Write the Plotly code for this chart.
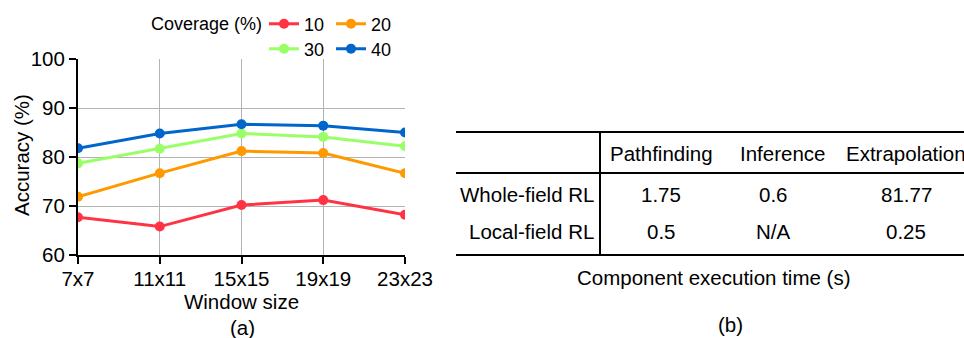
import plotly.graph_objects as go

W, H = 964, 338

window_sizes = ["7x7", "11x11", "15x15", "19x19", "23x23"]
coverage_labels = ["10", "20", "30", "40"]
acc_10 = [67.7, 65.8, 70.2, 71.2, 68.2]
acc_20 = [71.9, 76.7, 81.2, 80.8, 76.7]
acc_30 = [78.7, 81.7, 84.8, 84.1, 82.2]
acc_40 = [81.8, 84.8, 86.7, 86.4, 85.0]
series = [acc_10, acc_20, acc_30, acc_40]
colors = ["#ff3344", "#ff9900", "#99ff66", "#0066cc"]
legend_ids = ["legend", "legend", "legend2", "legend2"]
legend_title = "Coverage (%)"

y_ticks = [60, 70, 80, 90, 100]

table_cols = ["Pathfinding", "Inference", "Extrapolation"]
table_rows = ["Whole-field RL", "Local-field RL"]
table_vals = [["1.75", "0.6", "81.77"], ["0.5", "N/A", "0.25"]]
table_caption = "Component execution time (s)"

FONT = "Arial, 'Liberation Sans', sans-serif"
FS = 20.5


def px_x(x):
    return x / W


def px_y(y):
    return 1 - y / H


fig = go.Figure()
for name, vals, col, lg in zip(coverage_labels, series, colors, legend_ids):
    fig.add_trace(go.Scatter(
        x=window_sizes, y=vals, name=name, mode="lines+markers",
        line=dict(color=col, width=3),
        marker=dict(color=col, size=10),
        legend=lg,
    ))

# Table (b) drawn with shapes and annotations
x_left, x_right, x_div = 456, 970, 600
y_top, y_head, y_bot = 132, 173, 255
shapes = []
for yy in (y_top, y_head, y_bot):
    shapes.append(dict(type="line", xref="paper", yref="paper",
                       x0=px_x(x_left), x1=px_x(x_right), y0=px_y(yy), y1=px_y(yy),
                       line=dict(color="black", width=2)))
shapes.append(dict(type="line", xref="paper", yref="paper",
                   x0=px_x(x_div), x1=px_x(x_div), y0=px_y(y_top), y1=px_y(y_bot),
                   line=dict(color="black", width=2)))

annotations = []
head_x = [661, 782, 906]
val_x = [661, 773, 906]
row_y = [195, 232]


def txt(text, x, y, anchor="center", size=FS, angle=0):
    return dict(text=text, x=px_x(x), y=px_y(y), xref="paper", yref="paper",
                showarrow=False, xanchor=anchor, yanchor="middle", textangle=angle,
                font=dict(size=size, color="black", family=FONT))


for c, hx in zip(table_cols, head_x):
    annotations.append(txt(c, hx, 153))
for r, ry, vals in zip(table_rows, row_y, table_vals):
    annotations.append(txt(r, 596, ry, "right"))
    for v, vx in zip(vals, val_x):
        annotations.append(txt(v, vx, ry))
annotations.append(txt(table_caption, 713, 277))
annotations.append(txt("(b)", 730, 324))
annotations.append(txt("(a)", 242, 327))
annotations.append(txt("Accuracy (%)", 21, 155, angle=-90))
annotations.append(txt(legend_title, 264, 24, "right", size=18))

fig.update_layout(
    width=W, height=H, autosize=False,
    margin=dict(l=0, r=0, t=0, b=0, pad=0),
    paper_bgcolor="white", plot_bgcolor="white",
    font=dict(family=FONT, size=FS, color="black"),
    xaxis=dict(
        domain=[px_x(78), px_x(405)],
        type="category", range=[0, 4],
        showgrid=True, gridcolor="#b3b3b3", gridwidth=1,
        showline=True, linecolor="black", linewidth=2,
        ticks="outside", ticklen=7, tickcolor="black", tickwidth=2,
        ticklabelstandoff=-3,
        title=dict(text="Window size", standoff=2, font=dict(size=FS)),
        tickfont=dict(size=FS),
        zeroline=False, automargin=False,
    ),
    yaxis=dict(
        domain=[px_y(255), px_y(59)],
        range=[60, 100], tickvals=y_ticks,
        showgrid=True, gridcolor="#b3b3b3", gridwidth=1,
        showline=True, linecolor="black", linewidth=2,
        ticks="outside", ticklen=7, tickcolor="black", tickwidth=2,
        tickfont=dict(size=FS),
        zeroline=False, automargin=False,
    ),
    legend=dict(
        orientation="h", x=px_x(398), xanchor="right", y=px_y(24), yanchor="middle",
        font=dict(size=18), bgcolor="rgba(0,0,0,0)",
        itemwidth=30, tracegroupgap=0, entrywidth=22,
    ),
    legend2=dict(
        orientation="h", x=px_x(398), xanchor="right", y=px_y(49), yanchor="middle",
        font=dict(size=18), bgcolor="rgba(0,0,0,0)",
        itemwidth=30, tracegroupgap=0, entrywidth=22,
    ),
    shapes=shapes,
    annotations=annotations,
)

fig.write_html("out.html", config={"displayModeBar": False},
               post_script="document.body.style.margin='0';")
